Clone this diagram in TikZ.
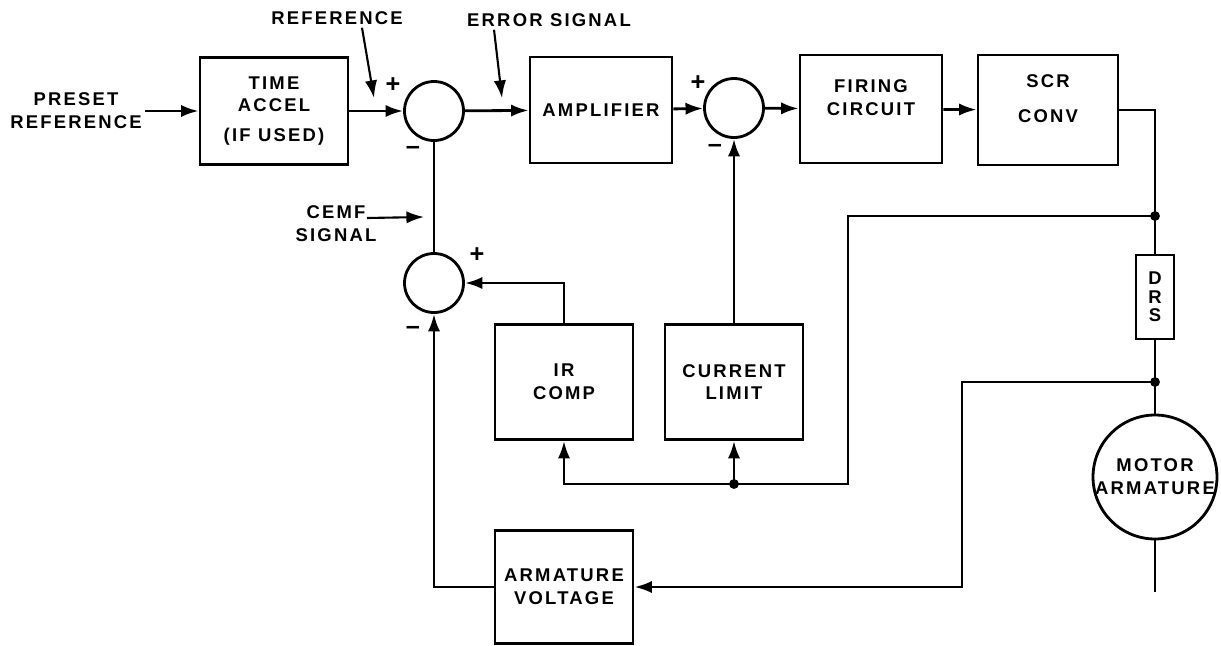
\documentclass[tikz,border=0pt]{standalone}
\usepackage{fontspec}
\setsansfont{Liberation Sans}[LetterSpace=12]
\usepackage{tikz}
\usetikzlibrary{arrows.meta,positioning}

\begin{document}
\begin{tikzpicture}[x=0.02cm, y=-0.02cm, line width=1.6pt,
  font=\sffamily\bfseries\fontsize{10.5}{13}\selectfont,
  blk/.style={draw, align=center, inner sep=2pt},
  sum/.style={draw, circle, minimum size=1.18cm, inner sep=0pt},
  txt/.style={align=center, inner sep=1pt},
  sgn/.style={inner sep=0pt, font=\sffamily\bfseries\Large},
  sig/.style={-{Latex[length=10pt,width=7pt]}}]
\useasboundingbox (0,0) rectangle (1221,646);

%forward path
\node[txt] (preset) at (76,111) {PRESET\\REFERENCE};
\node[blk, minimum width=2.96cm, minimum height=2.14cm] (accel) at (274,111) {TIME\\ACCEL\\[4pt](IF USED)};
\node[sum] (s1) at (434,111) {};
\node[blk, minimum width=2.84cm, minimum height=2.12cm] (amp) at (601,110) {AMPLIFIER};
\node[sum] (s2) at (734,108) {};
\node[blk, minimum width=2.84cm, minimum height=2.16cm] (firing) at (871,109) {FIRING\\CIRCUIT\\~};
\node[blk, minimum width=2.8cm, minimum height=2.2cm] (scr) at (1048,110) {SCR\\[7pt]CONV\\~};

%feedback blocks
\node[sum] (s3) at (434,283) {};
\node[blk, minimum width=2.76cm, minimum height=2.3cm] (ircomp) at (564,382) {IR\\COMP};
\node[blk, minimum width=2.76cm, minimum height=2.3cm] (curlim) at (734,382) {CURRENT\\LIMIT};
\node[blk, minimum width=2.76cm, minimum height=2.26cm] (armvolt) at (564,587) {ARMATURE\\VOLTAGE};

%armature circuit
\node[blk, minimum width=0.76cm, minimum height=1.68cm, font=\sffamily\bfseries\fontsize{10.5}{10.5}\selectfont] (drs) at (1155,297) {D\\R\\S};
\node[draw, circle, minimum size=2.48cm, inner sep=0pt] (motor) at (1155,477) {};
\node[txt] (motortxt) at (motor) {MOTOR\\ARMATURE};
\coordinate (j1) at (1155,216);
\coordinate (j2) at (1155,382);
\coordinate (mend) at (1155,592);
\coordinate (fb) at (848,484);
\coordinate (j3) at (curlim.south |- fb);
\coordinate (avr) at (962,587);

%labels
\node[txt] (reflbl) at (337,18) {REFERENCE};
\node[txt] (errlbl) at (549,20) {ERROR SIGNAL};
\node[txt] (cemflbl) at (336,224) {CEMF\\SIGNAL};
\coordinate (refhead) at (374,98);
\coordinate (errhead) at (502,98);
\coordinate (cemftail) at (367,218);
\coordinate (cemfhead) at (424,217);
\node[sgn] (p1) at (393,85) {+};
\node[sgn] (m1) at (413,150) {\textendash};
\node[sgn] (p2) at (698,83) {+};
\node[sgn] (m2) at (715,148) {\textendash};
\node[sgn] (p3) at (477,255) {+};
\node[sgn] (m3) at (413,330) {\textendash};

%connections
\draw[sig] (preset) -- (accel);
\draw[sig] (accel) -- (s1);
\draw[sig] (s1) -- (amp);
\draw[sig] (amp) -- (s2);
\draw[sig] (s2) -- (firing);
\draw[sig] (firing) -- (scr);
\draw (scr.east) -| (j1) -- (drs.north);
\draw (drs.south) -- (j2) -- (motor.north);
\draw (motor.south) -- (mend);
\draw[sig] (j1) -| (fb) -| (ircomp.south);
\draw[sig] (j3) -- (curlim.south);
\draw[sig] (curlim.north) -- (s2.south);
\draw[sig] (ircomp.north) |- (s3.east);
\draw[sig] (j2) -| (avr) -- (armvolt.east);
\draw[sig] (armvolt.west) -| (s3.south);
\draw (s3) -- (s1);
\foreach \j in {j1, j2, j3}{\fill (\j) circle (2.8pt);}

%pointers
\draw[sig, line width=1.2pt] ([xshift=0.5cm]reflbl.south) -- (refhead);
\draw[sig, line width=1.2pt] ([xshift=-1.1cm]errlbl.south) -- (errhead);
\draw[sig, line width=1.2pt] (cemftail) -- (cemfhead);
\end{tikzpicture}
\end{document}
